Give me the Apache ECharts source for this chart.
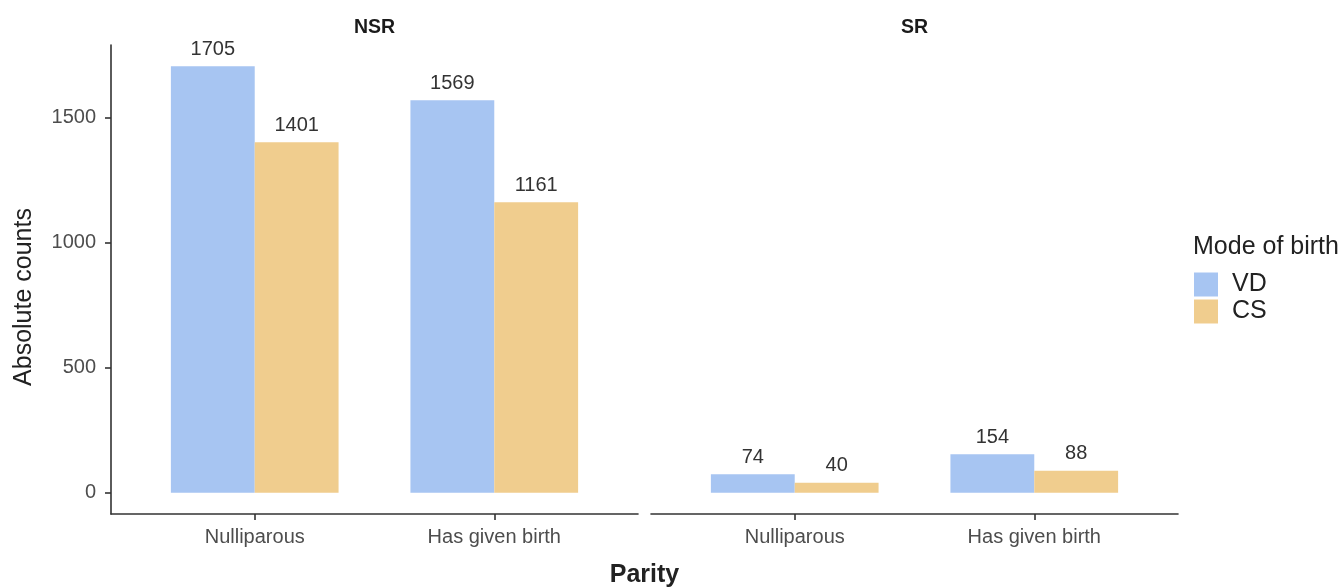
<!DOCTYPE html>
<html>
<head>
<meta charset="utf-8">
<script src="https://cdn.jsdelivr.net/npm/echarts@6/dist/echarts.min.js"></script>
<style>
html,body{margin:0;padding:0;background:#fff;}
#chart{width:1341px;height:587px;}
</style>
</head>
<body>
<div id="chart"></div>
<script>
// ---- data ----
const categories = ['Nulliparous', 'Has given birth'];
const panels = ['NSR', 'SR'];
const seriesNames = ['VD', 'CS'];
const vdNSR = [1705, 1569];
const csNSR = [1401, 1161];
const vdSR = [74, 154];
const csSR = [40, 88];
const yTicks = [0, 500, 1000, 1500];

// ---- layout / style ----
const FONT = '"Liberation Sans", Arial, Helvetica, sans-serif';
const colors = { VD: '#a7c5f2', CS: '#f0cd8e' };
const grids = [
  { left: 111, top: 45, width: 527, height: 469 },
  { left: 651, top: 45, width: 527, height: 469 }
];
const allVals = [].concat(vdNSR, csNSR, vdSR, csSR);
const yMaxData = Math.max(...allVals);
const yPad = yMaxData * 0.05;
const xPos = categories.map((c, i) => i + 1);
const xPad = 0.6;

const chart = echarts.init(document.getElementById('chart'), null, { renderer: 'canvas' });

function toPts(vals) { return vals.map((v, i) => [xPos[i], v]); }

const panelData = [
  { VD: vdNSR, CS: csNSR },
  { VD: vdSR, CS: csSR }
];

const series = [];
panelData.forEach((pd, gi) => {
  seriesNames.forEach(name => {
    series.push({
      type: 'bar',
      name: name,
      xAxisIndex: gi,
      yAxisIndex: gi,
      data: toPts(pd[name]),
      barWidth: '35%',
      barGap: '0%',
      itemStyle: { color: colors[name] },
      label: {
        show: true,
        position: 'top',
        distance: 7,
        formatter: p => String(p.value[1]),
        fontFamily: FONT,
        fontSize: 20,
        color: '#333333'
      },
      emphasis: { disabled: true },
      animation: false
    });
  });
});

const xAxes = grids.map((g, gi) => ({
  type: 'value',
  gridIndex: gi,
  min: xPos[0] - xPad,
  max: xPos[xPos.length - 1] + xPad,
  splitLine: { show: false },
  axisLine: { show: true, onZero: false, lineStyle: { color: '#333333', width: 1.6 } },
  axisTick: { show: true, length: 6, customValues: xPos, lineStyle: { color: '#333333', width: 1.6 } },
  axisLabel: {
    customValues: xPos,
    formatter: v => categories[Math.round(v) - 1] || '',
    margin: 13,
    fontFamily: FONT,
    fontSize: 20,
    color: '#4d4d4d'
  }
}));

const yAxes = grids.map((g, gi) => ({
  type: 'value',
  gridIndex: gi,
  min: -yPad,
  max: yMaxData + yPad,
  show: gi === 0,
  splitLine: { show: false },
  axisLine: { show: gi === 0, onZero: false, lineStyle: { color: '#333333', width: 1.6 } },
  axisTick: { show: gi === 0, length: 6, customValues: yTicks, lineStyle: { color: '#333333', width: 1.6 } },
  axisLabel: {
    show: gi === 0,
    customValues: yTicks,
    formatter: v => String(v),
    margin: 15,
    fontFamily: FONT,
    fontSize: 20,
    color: '#4d4d4d'
  }
}));

const graphic = [];
grids.forEach((g, gi) => {
  graphic.push({
    type: 'text',
    x: g.left + g.width / 2,
    y: 28,
    style: {
      text: panels[gi],
      textAlign: 'center',
      textVerticalAlign: 'middle',
      font: 'bold 19.5px ' + FONT,
      fill: '#1a1a1a'
    }
  });
});

graphic.push({
  type: 'text',
  x: 24,
  y: 297,
  rotation: Math.PI / 2,
  style: {
    text: 'Absolute counts',
    textAlign: 'center',
    textVerticalAlign: 'middle',
    font: '25px ' + FONT,
    fill: '#222222'
  }
});
graphic.push({
  type: 'text',
  x: (grids[0].left + grids[1].left + grids[1].width) / 2,
  y: 575,
  style: {
    text: 'Parity',
    textAlign: 'center',
    textVerticalAlign: 'middle',
    font: 'bold 25px ' + FONT,
    fill: '#222222'
  }
});
graphic.push({
  type: 'text',
  x: 1193,
  y: 247,
  style: {
    text: 'Mode of birth',
    textAlign: 'left',
    textVerticalAlign: 'middle',
    font: '25px ' + FONT,
    fill: '#222222'
  }
});

chart.setOption({
  animation: false,
  grid: grids.map(g => Object.assign({ containLabel: false }, g)),
  xAxis: xAxes,
  yAxis: yAxes,
  legend: {
    data: seriesNames,
    orient: 'vertical',
    left: 1194,
    top: 272,
    padding: 0,
    itemWidth: 24,
    itemHeight: 24,
    itemGap: 2,
    icon: 'rect',
    selectedMode: false,
    textStyle: { fontFamily: FONT, fontSize: 25, lineHeight: 24, color: '#222222', padding: [0, 0, 0, 9] }
  },
  graphic: graphic,
  series: series
});
</script>
</body>
</html>
